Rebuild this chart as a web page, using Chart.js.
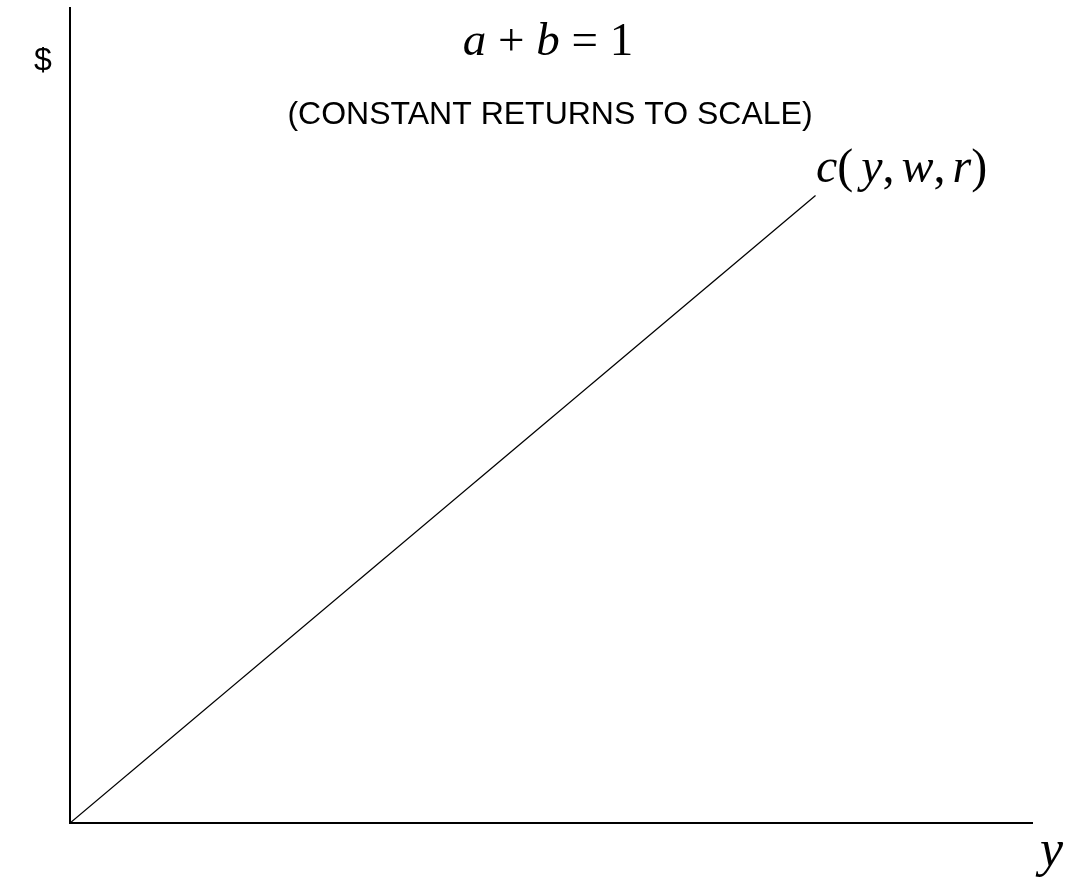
<!DOCTYPE html>
<html lang="en">
<head>
    <meta charset="UTF-8">
    <title>Cost curve</title>
    <style>
        html, body { margin: 0; padding: 0; background: #fff; }
        #wrap { width: 1071px; height: 877px; }
    </style>
</head>
<body>
    <div id="wrap"><canvas id="cost-chart" width="1071" height="877"></canvas></div>

    <script src="https://cdn.jsdelivr.net/npm/chart.js"></script>
    <script>
        // output y and cost $ (constant returns: straight line from origin)
        const outputY = [0, 77.5];
        const costC = [0, 77.0];
        const axisMax = [100, 100];

        const serifI = 'italic 47px "Liberation Serif", serif';
        const serif = '47px "Liberation Serif", serif';
        const serifI2 = 'italic 48px "Liberation Serif", serif';
        const serif2 = '48px "Liberation Serif", serif';

        // draw a row of text runs [text, font, extra gap after]
        function drawRuns(ctx, runs, x, y, align) {
            let total = 0;
            runs.forEach(r => { ctx.font = r[1]; total += ctx.measureText(r[0]).width + (r[2] || 0); });
            let cx = align === 'center' ? x - total / 2 : x;
            runs.forEach(r => {
                ctx.font = r[1];
                ctx.fillText(r[0], cx, y);
                cx += ctx.measureText(r[0]).width + (r[2] || 0);
            });
        }

        const labelsPlugin = {
            id: 'labels',
            afterDraw(chart) {
                const ctx = chart.ctx;
                ctx.save();
                ctx.fillStyle = '#000';
                ctx.textBaseline = 'alphabetic';
                ctx.textAlign = 'left';

                ctx.font = '32px "Liberation Sans", Arial, sans-serif';
                ctx.fillText('$', 34, 70);

                drawRuns(ctx, [
                    ['a', serifI], [' + ', serif], ['b', serifI], [' = 1', serif]
                ], 548, 55, 'center');

                ctx.font = '32px "Liberation Sans", Arial, sans-serif';
                ctx.textAlign = 'center';
                ctx.fillText('(CONSTANT RETURNS TO SCALE)', 550, 124);
                ctx.textAlign = 'left';

                drawRuns(ctx, [
                    ['c', serifI2], ['(', serif2, 8], ['y', serifI2], [',', serif2, 7],
                    ['w', serifI2], [',', serif2, 7], ['r', serifI2], [')', serif2]
                ], 816, 182, 'left');

                ctx.font = 'italic 52px "Liberation Serif", serif';
                ctx.fillText('y', 1040, 866);
                ctx.restore();
            }
        };

        const ctx = document.getElementById('cost-chart').getContext('2d');
        new Chart(ctx, {
            type: 'scatter',
            data: {
                datasets: [{
                    data: outputY.map((x, i) => ({ x: x, y: costC[i] })),
                    showLine: true,
                    borderColor: '#000',
                    borderWidth: 1.3,
                    pointRadius: 0,
                    fill: false
                }]
            },
            options: {
                responsive: false,
                animation: false,
                layout: { padding: { left: 62, top: 8, right: 39, bottom: 46 } },
                plugins: { legend: { display: false }, tooltip: { enabled: false } },
                scales: {
                    x: {
                        min: 0, max: axisMax[0],
                        ticks: { display: false },
                        grid: { display: false },
                        border: { display: true, color: '#000', width: 2 }
                    },
                    y: {
                        min: 0, max: axisMax[1],
                        ticks: { display: false },
                        grid: { display: false },
                        border: { display: true, color: '#000', width: 2 }
                    }
                }
            },
            plugins: [labelsPlugin]
        });
    </script>
</body>
</html>
